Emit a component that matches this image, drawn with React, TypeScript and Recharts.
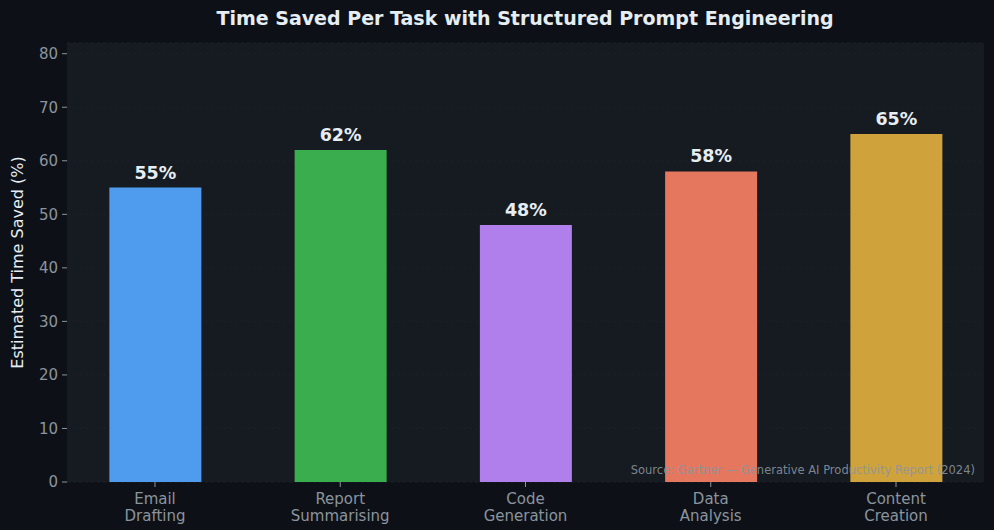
import React from 'react';
import { BarChart, Bar, XAxis, YAxis, CartesianGrid, Cell, LabelList } from 'recharts';

const categories = ['Email\nDrafting', 'Report\nSummarising', 'Code\nGeneration', 'Data\nAnalysis', 'Content\nCreation'];
const timeSaved = [55, 62, 48, 58, 65];
const barColors = ['#4f9bed', '#3aad4e', '#b07fec', '#e5775f', '#d0a23c'];
const yTicks = [0, 10, 20, 30, 40, 50, 60, 70, 80];

const data = categories.map((name, i) => ({ idx: i, name, value: timeSaved[i] }));

const FONT = '"DejaVu Sans", sans-serif';

function CategoryTick(props: any) {
  const { x, y, payload } = props;
  const lines = String(categories[payload.value] ?? '').split('\n');
  return (
    <text x={x} y={y} textAnchor="middle" fill="#8b949e" fontSize={15} fontFamily={FONT}>
      {lines.map((l, i) => (
        <tspan key={i} x={x} dy={i === 0 ? 15 : 17}>{l}</tspan>
      ))}
    </text>
  );
}

export default function App() {
  return (
    <div style={{ position: 'absolute', left: 0, top: 0, width: 994, height: 530, background: '#0d1117', fontFamily: FONT }}>
      <div style={{ position: 'absolute', left: 0, top: 7, width: 1050, textAlign: 'center', color: '#e6edf3', fontSize: 19, fontWeight: 'bold' }}>
        Time Saved Per Task with Structured Prompt Engineering
      </div>
      <BarChart width={994} height={530} data={data} margin={{ top: 43, right: 10, bottom: 18, left: 0 }}>
        <CartesianGrid vertical={false} fill="#161b22" stroke="#1c2129" strokeDasharray="3 3" />
        <XAxis
          dataKey="idx"
          type="number"
          domain={[-0.475, 4.475]}
          ticks={[0, 1, 2, 3, 4]}
          height={30}
          axisLine={false}
          tickLine={{ stroke: '#8b949e' }}
          tickSize={5}
          tick={<CategoryTick />}
          interval={0}
        />
        <YAxis
          domain={[0, 82]}
          ticks={yTicks}
          width={67}
          axisLine={false}
          tickLine={{ stroke: '#8b949e' }}
          tickSize={5}
          tickMargin={4}
          tick={{ fill: '#8b949e', fontSize: 15, fontFamily: FONT }}
          label={{ value: 'Estimated Time Saved (%)', angle: -90, position: 'insideLeft', offset: 0, dx: 17, style: { textAnchor: 'middle', fill: '#e6edf3', fontSize: 16, fontFamily: FONT } }}
        />
        <Bar dataKey="value" barSize={92} isAnimationActive={false}>
          {data.map((d, i) => (
            <Cell key={d.name} fill={barColors[i]} />
          ))}
          <LabelList
            dataKey="value"
            position="top"
            offset={9}
            formatter={(v: any) => `${v}%`}
            style={{ fill: '#e6edf3', fontSize: 17.5, fontWeight: 'bold', fontFamily: FONT }}
          />
        </Bar>
      </BarChart>
      <div style={{ position: 'absolute', right: 19, top: 463, color: 'rgba(139,148,158,0.9)', fontSize: 11.5, whiteSpace: 'nowrap' }}>
        Source: Gartner — Generative AI Productivity Report (2024)
      </div>
    </div>
  );
}
